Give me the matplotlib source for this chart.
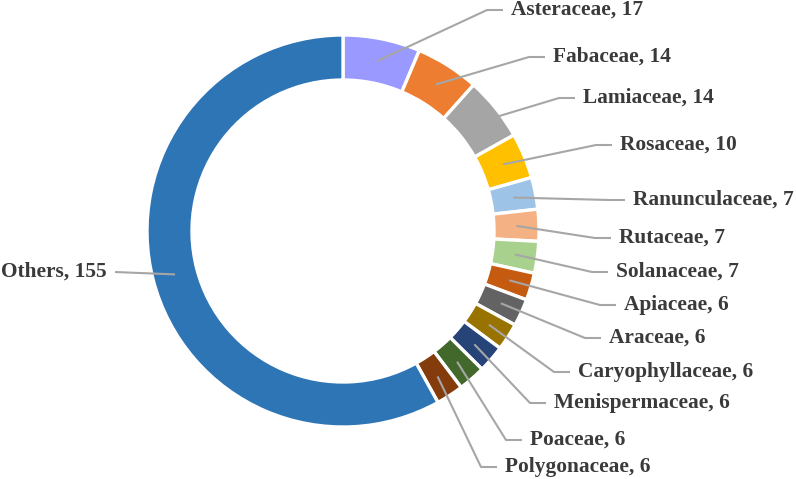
import numpy as np
import matplotlib.pyplot as plt

families = ['Asteraceae', 'Fabaceae', 'Lamiaceae', 'Rosaceae', 'Ranunculaceae',
            'Rutaceae', 'Solanaceae', 'Apiaceae', 'Araceae', 'Caryophyllaceae',
            'Menispermaceae', 'Poaceae', 'Polygonaceae', 'Others']
counts = [17, 14, 14, 10, 7, 7, 7, 6, 6, 6, 6, 6, 6, 155]
colors = ['#9999FF', '#ED7D31', '#A5A5A5', '#FFC000', '#9DC3E6', '#F4B183',
          '#A9D18E', '#C55A11', '#636363', '#997300', '#264478', '#43682B',
          '#843C0C', '#2E75B6']

# label anchor (text edge, vertical centre) in pixel coords from the top
label_pos = [(511, 10), (553, 57), (583, 98), (620, 145), (633, 200),
             (619, 238), (616, 272), (624, 305), (609, 338), (578, 372),
             (554, 403), (530, 440), (505, 467), (107, 272)]

W, H = 796, 479
fig = plt.figure(figsize=(W / 100, H / 100), dpi=100)
ax = fig.add_axes([0, 0, 1, 1])

cx, cy = 343, H - 231
r_out, ring = 196, 45
wedges, _ = ax.pie(counts, colors=colors, startangle=90, counterclock=False,
                   center=(cx, cy), radius=r_out,
                   wedgeprops=dict(width=ring, edgecolor='white', linewidth=2.4))

font = dict(family='Liberation Serif', weight='bold', fontsize=15.4, color='#3A3A3A')
r_mid = r_out - ring / 2
for w, name, n, (lx, ly) in zip(wedges, families, counts, label_pos):
    ang = np.deg2rad((w.theta1 + w.theta2) / 2)
    px, py = cx + r_mid * np.cos(ang), cy + r_mid * np.sin(ang)
    ty = H - ly
    if name == 'Others':
        xs = [px, lx + 8]
        ys = [py, ty]
        ax.text(lx, ty, f'{name}, {n}', ha='right', va='center', **font)
    else:
        xs = [px, lx - 24, lx - 8]
        ys = [py, ty, ty]
        ax.text(lx, ty, f'{name}, {n}', ha='left', va='center', **font)
    ax.plot(xs, ys, color='#A6A6A6', lw=1.5, solid_capstyle='butt')

ax.set_xlim(0, W)
ax.set_ylim(0, H)
ax.set_aspect('equal')
ax.axis('off')

fig.savefig('out.png', dpi=100, facecolor='white')
